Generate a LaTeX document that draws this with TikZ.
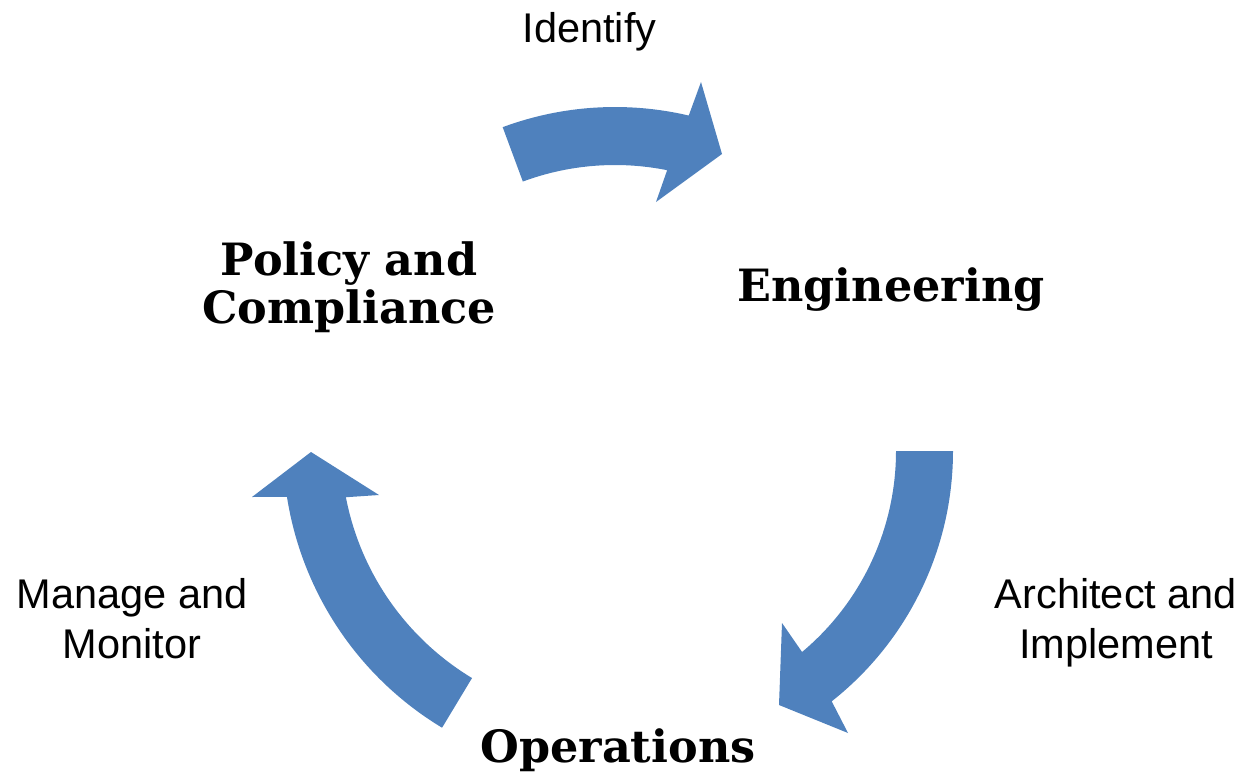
\documentclass[tikz,border=0pt]{standalone}
\usepackage{fontspec}
\usetikzlibrary{calc}
\newfontfamily\lblfont{Liberation Sans}
\newfontfamily\ttlfont{DejaVu Serif}
\definecolor{arrowblue}{HTML}{4F81BD}
\tikzset{
  cyclearrow/.style={fill=arrowblue, draw=none},
  steplabel/.style={font=\lblfont\fontsize{41.5}{50}\selectfont, align=center, inner sep=0pt, anchor=base},
  phaselabel/.style={font=\ttlfont\bfseries\fontsize{44.5}{48.5}\selectfont, align=center, inner sep=0pt, anchor=base}
}
\begin{document}
\begin{tikzpicture}[x=1pt,y=1pt]
\useasboundingbox (0,-781) rectangle (1245,0);
% centres of the three circular arrows
\coordinate (ctop) at (615,-430);
\coordinate (cright) at (634,-451);
\coordinate (cleft) at (612,-446);
% top arrow: Policy and Compliance -> Engineering
\fill[cyclearrow] ($(ctop)+(110.35:323)$) arc[start angle=110.35, end angle=76.8, radius=323]
  -- (701,-82) -- (722,-154) -- (656,-202)
  -- ($(ctop)+(78.65:265)$) arc[start angle=78.65, end angle=110.35, radius=265] -- cycle;
% right arrow: Engineering -> Operations
\fill[cyclearrow] ($(cright)+(0:319)$) arc[start angle=0, end angle=-51.7, radius=319]
  -- (848,-733) -- (779,-705) -- (782,-623)
  -- ($(cright)+(-50.1:262)$) arc[start angle=-50.1, end angle=0, radius=262] -- cycle;
% left arrow: Operations -> Policy and Compliance
\fill[cyclearrow] ($(cleft)+(238.9:329)$) arc[start angle=238.9, end angle=188.9, radius=329]
  -- (252,-497) -- (311,-452) -- (379,-495)
  -- ($(cleft)+(190.9:271)$) arc[start angle=190.9, end angle=238.9, radius=271] -- cycle;
% phase labels (multi-line nodes: base = last line)
\node[phaselabel] (policy) at (349,-323.5) {Policy and\\Compliance};
\node[phaselabel] (eng) at (891,-301.7) {Engineering};
\node[phaselabel] (ops) at (618,-762.7) {Operations};
% step labels
\node[steplabel] (identify) at (589.5,-42.7) {Identify};
\node[steplabel] (arch) at (1116,-658.3) {Architect and\\Implement};
\node[steplabel] (manage) at (132,-658.3) {Manage and\\Monitor};
\end{tikzpicture}
\end{document}
